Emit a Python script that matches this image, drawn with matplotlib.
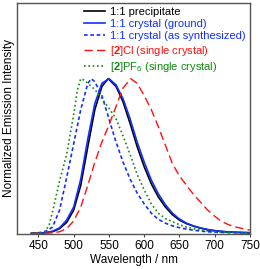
import numpy as np
import matplotlib
matplotlib.use("Agg")
import matplotlib.pyplot as plt

plt.rcParams["font.family"] = ["Liberation Sans", "DejaVu Sans"]
plt.rcParams["mathtext.fontset"] = "custom"
plt.rcParams["mathtext.rm"] = "Liberation Sans"
plt.rcParams["mathtext.bf"] = "Liberation Sans:bold"

# emission spectra (normalized)
wl_black = [440, 450, 460, 470, 480, 490, 500, 510, 520, 530, 540, 549, 560, 570, 580,
            590, 600, 610, 620, 630, 640, 650, 660, 670, 680, 690, 700, 710, 720, 730, 740, 750]
precipitate = [0, 0, .003, .01, .03, .07, .15, .31, .56, .80, .95, 1.0, .95, .85, .71,
               .56, .43, .32, .235, .17, .12, .085, .062, .046, .033, .023, .016, .011, .008, .006, .004, .003]

wl_ground = [440, 450, 460, 470, 480, 490, 500, 510, 520, 530, 540, 550, 560, 570, 580,
             590, 600, 610, 620, 630, 640, 650, 660, 670, 680, 690, 700, 710, 720, 730, 740, 750]
crystal_ground = [0, 0, .004, .013, .035, .085, .17, .35, .61, .84, .97, 1.0, .96, .87, .74,
                  .59, .46, .345, .255, .185, .13, .092, .065, .047, .034, .024, .017, .012, .009, .006, .005, .004]

wl_synth = [440, 450, 460, 470, 480, 490, 500, 510, 520, 525, 530, 540, 550, 560, 570,
            580, 590, 600, 610, 620, 630, 640, 650, 660, 670, 680, 690, 700, 720, 750]
crystal_synth = [0, .003, .012, .04, .15, .36, .58, .80, .97, 1.0, .98, .89, .74, .59, .46,
                 .35, .26, .19, .13, .09, .065, .048, .036, .027, .02, .014, .01, .007, .004, .002]

wl_cl = [440, 460, 470, 480, 490, 500, 510, 520, 530, 540, 550, 560, 570, 581, 590,
         600, 610, 620, 630, 640, 650, 660, 670, 680, 690, 700, 710, 720, 730, 740, 750]
salt_cl = [0, 0, .003, .01, .03, .08, .17, .31, .46, .59, .70, .82, .94, 1.0, .97,
           .89, .80, .69, .57, .45, .37, .31, .25, .20, .15, .11, .075, .055, .04, .03, .02]

wl_pf6 = [440, 450, 455, 460, 465, 470, 480, 490, 500, 505, 510, 515, 520, 530, 540, 550,
          560, 570, 580, 590, 600, 610, 620, 630, 640, 650, 660, 670, 680, 690, 700, 720, 750]
salt_pf6 = [0, 0, .002, .015, .05, .14, .34, .51, .77, .92, 1.0, .99, .97, .93, .87, .81,
            .74, .63, .51, .38, .28, .19, .13, .095, .075, .055, .04, .03, .02, .015, .011, .006, .003]

fig = plt.figure(figsize=(2.6, 2.69), dpi=100)
ax = fig.add_axes([0.0665, 0.130, 0.895, 0.859])

ax.plot(wl_black, precipitate, color="black", lw=1.2, label="1:1 precipitate")
ax.plot(wl_ground, crystal_ground, color="#1030ff", lw=1.2, label="1:1 crystal (ground)")
ax.plot(wl_synth, crystal_synth, color="#1030ff", lw=1.2, ls=(0, (2.2, 1.6)),
        label="1:1 crystal (as synthesized)")
ax.plot(wl_cl, salt_cl, color="#ff1010", lw=1.0, ls=(0, (6, 3)),
        label="[$\\mathbf{2}$]Cl (single crystal)")
ax.plot(wl_pf6, salt_pf6, color="#108a10", lw=1.2, ls=(0, (1, 1.6)),
        label="[$\\mathbf{2}$]PF$_6$ (single crystal)")

ax.set_xlim(420, 750)
ax.set_ylim(-0.005, 1.49)
ax.set_xticks([450, 500, 550, 600, 650, 700, 750])
ax.set_yticks([])
ax.tick_params(axis="x", direction="out", length=2, width=0.8, labelsize=8.5, pad=2, color="#444")
for s in ax.spines.values():
    s.set_color("#555")
    s.set_linewidth(1.0)

ax.set_xlabel("Wavelength / nm", fontsize=8.5, labelpad=2)
ax.set_ylabel("Normalized Emission Intensity", fontsize=8.5, labelpad=2)

leg = ax.legend(loc="upper right", bbox_to_anchor=(1.0, 1.0), frameon=False, fontsize=8,
                handlelength=1.9, handletextpad=0.45, labelspacing=0.2,
                borderaxespad=0.05, borderpad=0.3)
for txt, line in zip(leg.get_texts(), leg.get_lines()):
    txt.set_color(line.get_color())

fig.savefig("out.png", dpi=100)
